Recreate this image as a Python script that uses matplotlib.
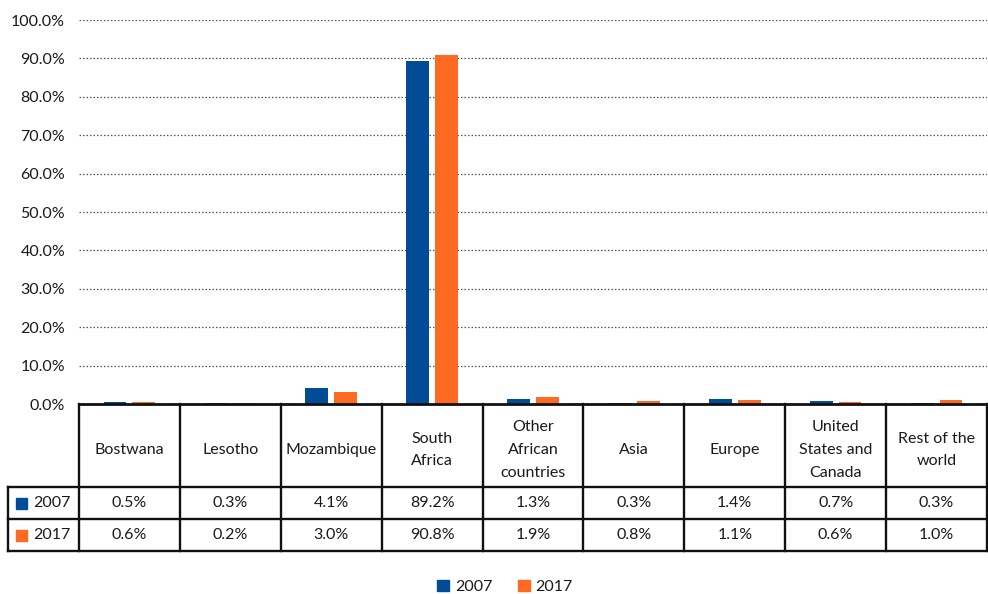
import matplotlib
matplotlib.use("Agg")
import matplotlib.pyplot as plt
import matplotlib.transforms as mtransforms
from matplotlib.patches import Rectangle
import numpy as np

plt.rcParams['font.family'] = ['Lato', 'DejaVu Sans']

categories = ["Bostwana", "Lesotho", "Mozambique", "South\nAfrica",
              "Other\nAfrican\ncountries", "Asia", "Europe",
              "United\nStates and\nCanada", "Rest of the\nworld"]
series_names = ["2007", "2017"]
values_2007 = [0.5, 0.3, 4.1, 89.2, 1.3, 0.3, 1.4, 0.7, 0.3]
values_2017 = [0.6, 0.2, 3.0, 90.8, 1.9, 0.8, 1.1, 0.6, 1.0]
yticks = [0, 10, 20, 30, 40, 50, 60, 70, 80, 90, 100]

colors = ["#004C97", "#FF6A22"]
text_color = "#1a1a1a"
fs = 11.5

W, H = 988, 594
fig = plt.figure(figsize=(W / 100, H / 100), dpi=100)

# plot area in pixels
left, right, top, bottom = 79, 987, 20, 404
ax = fig.add_axes([left / W, 1 - bottom / H, (right - left) / W, (bottom - top) / H])

n = len(categories)
x = np.arange(n)
bw = 0.225
gap = 0.06
ax.bar(x - (bw + gap) / 2, values_2007, width=bw, color=colors[0], zorder=3)
ax.bar(x + (bw + gap) / 2, values_2017, width=bw, color=colors[1], zorder=3)

ax.set_xlim(-0.5, n - 0.5)
ax.set_ylim(0, 100)
ax.set_yticks(yticks)
ax.set_yticklabels([f"{v:.1f}%" for v in yticks], fontsize=fs, color=text_color)
ax.tick_params(axis="y", length=0, pad=10)
ax.tick_params(axis="x", length=0, labelbottom=False)
for s in ax.spines.values():
    s.set_visible(False)
ax.yaxis.grid(True, linestyle=(0, (1.2, 1.6)), color="#555555", linewidth=0.9, zorder=0)
ax.axhline(0, color="#111111", linewidth=2, zorder=4, clip_on=False)

# data table below the plot area: x in data units, y in pixels from top of figure
ax_h = bottom - top
trans = mtransforms.blended_transform_factory(ax.transData, ax.transAxes)

def yy(py):
    return (bottom - py) / ax_h

line_kw = dict(color="#111111", linewidth=1.7, transform=trans, clip_on=False)
row_hdr = 487
row_a = 519
row_b = 551
x_leg = -0.5 - (left - 8) / ((right - left) / n)

# horizontal rules
for py in (row_hdr, row_a, row_b):
    ax.plot([x_leg, n - 0.5], [yy(py), yy(py)], **line_kw)
# vertical rules between columns
for i in range(n + 1):
    ax.plot([i - 0.5, i - 0.5], [yy(bottom), yy(row_b)], **line_kw)
ax.plot([x_leg, x_leg], [yy(row_hdr), yy(row_b)], **line_kw)

# category headers
for i, c in enumerate(categories):
    ax.text(i, yy((bottom + row_hdr) / 2 + 4.5), c, transform=trans, ha="center",
            va="center", fontsize=fs, color=text_color, linespacing=1.8)

# values and row legends
for vals, name, col, r0, r1 in ((values_2007, series_names[0], colors[0], row_hdr, row_a),
                                (values_2017, series_names[1], colors[1], row_a, row_b)):
    yc = yy((r0 + r1) / 2)
    for i, v in enumerate(vals):
        ax.text(i, yc, f"{v:.1f}%", transform=trans, ha="center", va="center",
                fontsize=fs, color=text_color)
    fig.patches.append(Rectangle((16 / W, 1 - ((r0 + r1) / 2 + 5.5) / H), 11 / W, 11 / H,
                                 transform=fig.transFigure, color=col))
    fig.text(33 / W, 1 - (r0 + r1) / 2 / H, name, ha="left", va="center",
             fontsize=fs, color=text_color)

# legend at the bottom
handles = [Rectangle((0, 0), 1, 1, color=c) for c in colors]
fig.legend(handles, series_names, loc="center", bbox_to_anchor=(505 / W, 1 - 587 / H),
           ncol=2, frameon=False, fontsize=fs, handlelength=0.75, handleheight=0.75,
           handletextpad=0.35, columnspacing=1.6, labelcolor=text_color)

fig.savefig("out.png", dpi=100)
